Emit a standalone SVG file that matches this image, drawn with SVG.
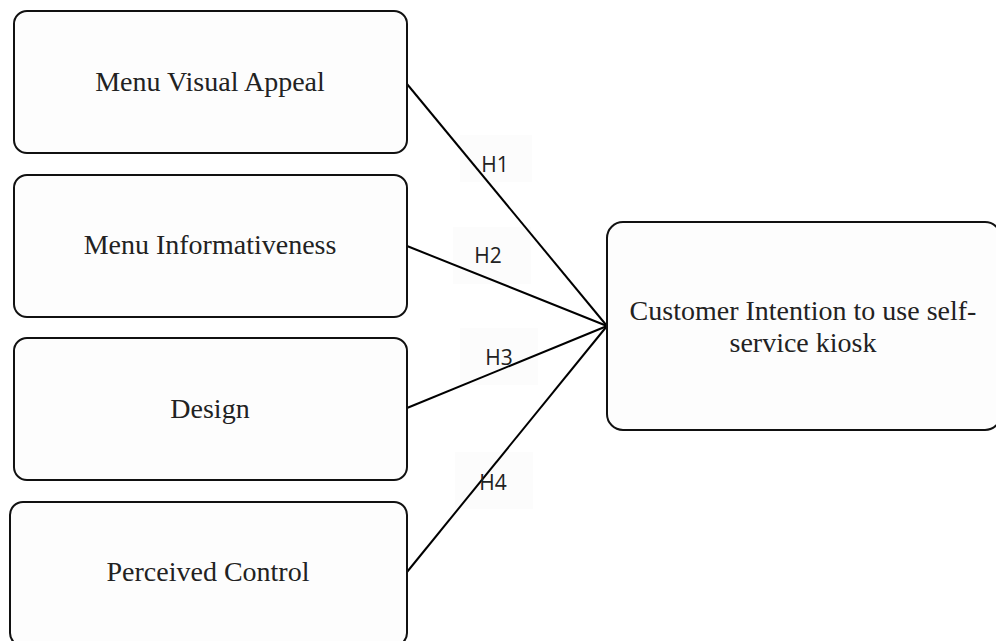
<svg xmlns="http://www.w3.org/2000/svg" width="996" height="641" viewBox="0 0 996 641">
<style>
.box{fill:#fdfdfd;stroke:#111;stroke-width:2}
.t{font-family:"Liberation Serif","Times New Roman",serif;font-size:28px;fill:#222;text-anchor:middle}
.h{font-family:"Open Sans","Liberation Sans",sans-serif;font-size:21px;fill:#222;text-anchor:middle}
.c{stroke:#000;stroke-width:2;fill:none}
.lb{fill:#fcfcfc}
</style>
<rect width="996" height="641" fill="#fff"/>
<g id="connectors">
<rect class="lb" x="460" y="135" width="72" height="47"/>
<rect class="lb" x="453" y="227" width="78" height="57"/>
<rect class="lb" x="460" y="328" width="78" height="57"/>
<rect class="lb" x="455" y="452" width="78" height="57"/>
<line class="c" x1="407" y1="84" x2="607" y2="326"/>
<line class="c" x1="407" y1="246" x2="607" y2="326"/>
<line class="c" x1="407" y1="408" x2="607" y2="326"/>
<line class="c" x1="407" y1="572" x2="607" y2="326"/>
<text class="h" x="495" y="172">H1</text>
<text class="h" x="488" y="263">H2</text>
<text class="h" x="499" y="365">H3</text>
<text class="h" x="493" y="490">H4</text>
</g>
<g id="n1"><rect class="box" x="14" y="11" width="393" height="142" rx="13"/><text class="t" x="210" y="91">Menu Visual Appeal</text></g>
<g id="n2"><rect class="box" x="14" y="175" width="393" height="142" rx="13"/><text class="t" x="210" y="254">Menu Informativeness</text></g>
<g id="n3"><rect class="box" x="14" y="338" width="393" height="142" rx="13"/><text class="t" x="210" y="418">Design</text></g>
<g id="n4"><rect class="box" x="10" y="502" width="397" height="144" rx="13"/><text class="t" x="208" y="581">Perceived Control</text></g>
<g id="n5"><rect class="box" x="607" y="222" width="394" height="208" rx="16"/><text class="t" x="803" y="320">Customer Intention to use self-</text><text class="t" x="803" y="352">service kiosk</text></g>
</svg>
